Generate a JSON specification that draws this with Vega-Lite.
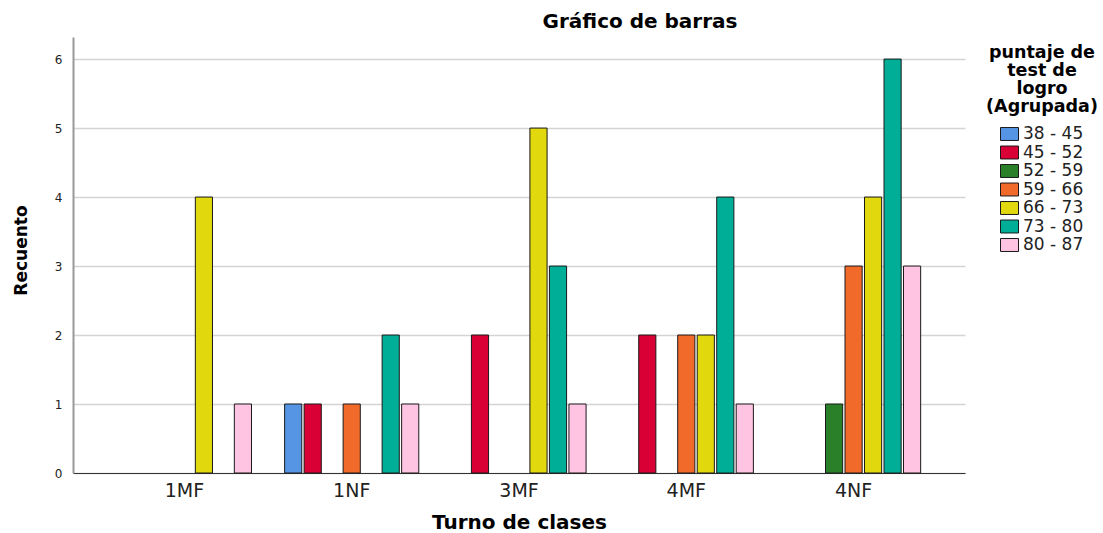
{
  "$schema": "https://vega.github.io/schema/vega-lite/v6.json",
  "width": 892,
  "height": 436,
  "autosize": {"type": "none"},
  "padding": {"left": 73, "top": 37, "right": 138, "bottom": 60},
  "background": "white",
  "title": {
    "text": "Gráfico de barras",
    "font": "DejaVu Sans",
    "fontSize": 20,
    "fontWeight": "bold",
    "color": "#000000",
    "anchor": "middle",
    "dx": 121,
    "offset": 5
  },
  "data": {
    "values": [
      {"turno": "1MF", "grupo": "66 - 73", "n": 4},
      {"turno": "1MF", "grupo": "80 - 87", "n": 1},
      {"turno": "1NF", "grupo": "38 - 45", "n": 1},
      {"turno": "1NF", "grupo": "45 - 52", "n": 1},
      {"turno": "1NF", "grupo": "59 - 66", "n": 1},
      {"turno": "1NF", "grupo": "73 - 80", "n": 2},
      {"turno": "1NF", "grupo": "80 - 87", "n": 1},
      {"turno": "3MF", "grupo": "45 - 52", "n": 2},
      {"turno": "3MF", "grupo": "66 - 73", "n": 5},
      {"turno": "3MF", "grupo": "73 - 80", "n": 3},
      {"turno": "3MF", "grupo": "80 - 87", "n": 1},
      {"turno": "4MF", "grupo": "45 - 52", "n": 2},
      {"turno": "4MF", "grupo": "59 - 66", "n": 2},
      {"turno": "4MF", "grupo": "66 - 73", "n": 2},
      {"turno": "4MF", "grupo": "73 - 80", "n": 4},
      {"turno": "4MF", "grupo": "80 - 87", "n": 1},
      {"turno": "4NF", "grupo": "52 - 59", "n": 1},
      {"turno": "4NF", "grupo": "59 - 66", "n": 3},
      {"turno": "4NF", "grupo": "66 - 73", "n": 4},
      {"turno": "4NF", "grupo": "73 - 80", "n": 6},
      {"turno": "4NF", "grupo": "80 - 87", "n": 3}
    ]
  },
  "mark": {"type": "bar", "stroke": "#1a1a1a", "strokeWidth": 1},
  "encoding": {
    "x": {
      "field": "turno",
      "type": "nominal",
      "sort": ["1MF", "1NF", "3MF", "4MF", "4NF"],
      "scale": {"domain": ["1MF", "1NF", "3MF", "4MF", "4NF"], "paddingInner": 0.184, "paddingOuter": 0.258},
      "axis": {
        "title": "Turno de clases",
        "titleFont": "DejaVu Sans",
        "titleFontSize": 20,
        "titleFontWeight": "bold",
        "titleColor": "#000000",
        "titlePadding": 12,
        "labelFont": "DejaVu Sans",
        "labelFontSize": 19,
        "labelColor": "#222222",
        "labelAngle": 0,
        "labelPadding": 8,
        "ticks": false,
        "domainColor": "#333333",
        "domainWidth": 1,
        "grid": false
      }
    },
    "xOffset": {
      "field": "grupo",
      "type": "nominal",
      "scale": {"domain": ["38 - 45", "45 - 52", "52 - 59", "59 - 66", "66 - 73", "73 - 80", "80 - 87"], "paddingInner": 0.12, "paddingOuter": 0.06}
    },
    "y": {
      "field": "n",
      "type": "quantitative",
      "scale": {"domain": [0, 6.32], "nice": false, "zero": true},
      "axis": {
        "title": "Recuento",
        "titleFont": "DejaVu Sans",
        "titleFontSize": 17,
        "titleFontWeight": "bold",
        "titleColor": "#000000",
        "titlePadding": 24,
        "titleY": 213,
        "values": [0, 1, 2, 3, 4, 5, 6],
        "labelFont": "DejaVu Sans",
        "labelFontSize": 12,
        "labelColor": "#222222",
        "labelPadding": 11,
        "ticks": false,
        "domainColor": "#999999",
        "domainWidth": 2,
        "grid": true,
        "gridColor": "#d4d4d4",
        "gridWidth": 1.5
      }
    },
    "color": {
      "field": "grupo",
      "type": "nominal",
      "scale": {
        "domain": ["38 - 45", "45 - 52", "52 - 59", "59 - 66", "66 - 73", "73 - 80", "80 - 87"],
        "range": ["#5694e4", "#d80034", "#2a8029", "#f26a2a", "#e2d80e", "#00ae98", "#ffc4e2"]
      },
      "legend": {
        "orient": "none",
        "legendX": 913,
        "legendY": 7,
        "title": ["puntaje de", "test de", "logro", "(Agrupada)"],
        "titleFont": "DejaVu Sans",
        "titleFontSize": 17.5,
        "titleFontWeight": "bold",
        "titleColor": "#000000",
        "titleAlign": "center",
        "titleAnchor": "middle",
        "titleLineHeight": 18,
        "titlePadding": 9,
        "titleLimit": 300,
        "symbolType": "M-1,-0.72L1,-0.72L1,0.72L-1,0.72Z",
        "symbolSize": 324,
        "symbolStrokeColor": "#1a1a1a",
        "symbolStrokeWidth": 1,
        "symbolOpacity": 1,
        "labelFont": "DejaVu Sans",
        "labelFontSize": 17,
        "labelColor": "#222222",
        "labelOffset": 4,
        "rowPadding": 0.5
      }
    }
  },
  "config": {
    "view": {"stroke": null}
  }
}
